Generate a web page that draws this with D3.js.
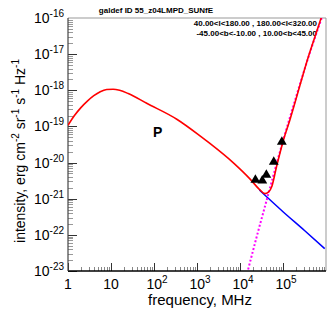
<!DOCTYPE html>
<html><head><meta charset="utf-8">
<script src="https://cdn.jsdelivr.net/npm/d3@7"></script>
<style>body{margin:0;background:#fff}svg{display:block}text{font-family:"Liberation Sans",Arial,sans-serif}</style>
</head><body><div id="chart"></div>
<script>
// ---- data (log10 frequency in MHz, log10 intensity) ----
const title = "galdef ID 55_z04LMPD_SUNfE";
const regionLines = ["40.00<l<180.00 , 180.00<l<320.00", "-45.00<b<-10.00 , 10.00<b<45.00"];
const xTickExp = [0, 1, 2, 3, 4, 5];
const xTickLabels = [["1", ""], ["10", ""], ["10", "2"], ["10", "3"], ["10", "4"], ["10", "5"]];
const yTickExp = [-16, -17, -18, -19, -20, -21, -22, -23];
const yTickLabels = ["-16", "-17", "-18", "-19", "-20", "-21", "-22", "-23"];
// total (red)
const totalLogF = [0, 0.15, 0.3, 0.45, 0.6, 0.75, 0.9, 1.05, 1.2, 1.4, 1.83, 2.53, 3.07, 3.3, 3.84, 4.23, 4.45, 4.58, 4.66, 4.74, 4.85, 5.01, 5.16, 5.59, 5.86, 5.9];
const totalLogI = [-18.97, -18.70, -18.48, -18.30, -18.15, -18.04, -17.98, -17.97, -18.0, -18.09, -18.36, -18.8, -19.26, -19.47, -20.0, -20.45, -20.74, -20.86, -20.82, -20.66, -20.11, -19.38, -18.82, -17.07, -16.1, -15.95];
// synchrotron continuation (blue)
const syncLogF = [4.45, 5.0, 5.5, 5.97];
const syncLogI = [-20.76, -21.36, -21.88, -22.38];
// second component (magenta dotted)
const dustLogF = [4.05, 4.18, 4.4, 4.62, 5.0, 5.3, 5.6, 5.9];
const dustLogI = [-23.6, -23.0, -22.0, -21.04, -19.4, -18.2, -17.05, -16.0];
// data points (triangles)
const ptsFreq = [22800, 33000, 41000, 61000, 94000];
const ptsLogI = [-20.48, -20.50, -20.34, -19.98, -19.43];
const label = "P";

// ---- layout ----
const W = 332, H = 320;
const m = {l: 68, r: 326, t: 18, b: 271};
const svg = d3.select("#chart").append("svg").attr("width", W).attr("height", H);
const x = d3.scaleLog().domain([1, 1e6]).range([m.l, m.r]);
const y = d3.scaleLog().domain([1e-23, 1e-16]).range([m.b, m.t]);

svg.append("defs").append("clipPath").attr("id", "clip")
  .append("rect").attr("x", m.l).attr("y", m.t).attr("width", m.r - m.l).attr("height", m.b - m.t);

// frame
svg.append("line").attr("x1", m.l).attr("x2", m.r).attr("y1", m.t).attr("y2", m.t).attr("stroke", "#999").attr("stroke-width", 1);
svg.append("line").attr("x1", m.r).attr("x2", m.r).attr("y1", m.t).attr("y2", m.b).attr("stroke", "#999").attr("stroke-width", 1);

// ticks
const tickG = svg.append("g").attr("stroke-width", 1);
for (let e = 0; e < 6; e++) {
  for (let k = 1; k <= 9; k++) {
    const v = k * Math.pow(10, e);
    const px = Math.round(x(v)) + 0.5;
    const len = k === 1 ? 8 : 4;
    tickG.append("line").attr("x1", px).attr("x2", px).attr("y1", m.b).attr("y2", m.b - len)
      .attr("stroke", k === 1 ? "#333" : "#888");
  }
}
for (let e = -23; e < -16; e++) {
  for (let k = 1; k <= 9; k++) {
    const v = k * Math.pow(10, e);
    const py = Math.round(y(v)) + 0.5;
    const len = k === 1 ? 9 : 5;
    tickG.append("line").attr("x1", m.l).attr("x2", m.l + len).attr("y1", py).attr("y2", py)
      .attr("stroke", k === 1 ? "#333" : "#999");
  }
}
// axis lines
svg.append("line").attr("x1", m.l).attr("x2", m.r).attr("y1", m.b).attr("y2", m.b).attr("stroke", "#000").attr("stroke-width", 1.5);
svg.append("line").attr("x1", m.l).attr("x2", m.l).attr("y1", m.t).attr("y2", m.b).attr("stroke", "#444").attr("stroke-width", 1.2);

// x tick labels
xTickExp.forEach((e, i) => {
  const t = svg.append("text").attr("x", x(Math.pow(10, e)) + (xTickLabels[i][1] ? 3 : 0)).attr("y", 289)
    .attr("text-anchor", "middle").attr("font-size", 14).attr("fill", "#000");
  t.append("tspan").text(xTickLabels[i][0]);
  if (xTickLabels[i][1]) t.append("tspan").attr("font-size", 10).attr("dy", -6).text(xTickLabels[i][1]);
});
// y tick labels
yTickExp.forEach((e, i) => {
  const t = svg.append("text").attr("x", 64).attr("y", y(Math.pow(10, e)) + 5)
    .attr("text-anchor", "end").attr("font-size", 14).attr("fill", "#000");
  t.append("tspan").text("10");
  t.append("tspan").attr("font-size", 10).attr("dy", -6).text(yTickLabels[i]);
});

// axis titles
svg.append("text").attr("x", 200).attr("y", 305).attr("text-anchor", "middle").attr("font-size", 15).text("frequency, MHz");
const yl = svg.append("text").attr("transform", "translate(25,151) rotate(-90)").attr("text-anchor", "middle").attr("font-size", 14);
[["intensity, erg cm", "-2"], [" sr", "-1"], [" s", "-1"], [" Hz", "-1"]].forEach(([a, b], i) => {
  yl.append("tspan").attr("dy", i === 0 ? 0 : 6).text(a);
  yl.append("tspan").attr("font-size", 10).attr("dy", -6).text(b);
});

// titles
svg.append("text").attr("x", 156).attr("y", 13).attr("text-anchor", "middle").attr("font-size", 8).attr("font-weight", "bold").text(title);
regionLines.forEach((s, i) => {
  svg.append("text").attr("x", 317).attr("y", 26 + i * 10).attr("text-anchor", "end").attr("font-size", 8).attr("font-weight", "bold").text(s);
});
svg.append("text").attr("x", 153).attr("y", 137).attr("font-size", 14).attr("font-weight", "bold").text(label);

// curves
const line = d3.line().x(d => x(Math.pow(10, d[0]))).y(d => y(Math.pow(10, d[1]))).curve(d3.curveMonotoneX);
const plot = svg.append("g").attr("clip-path", "url(#clip)");
plot.append("path").datum(syncLogF.map((f, i) => [f, syncLogI[i]])).attr("d", line)
  .attr("fill", "none").attr("stroke", "#0000ff").attr("stroke-width", 1.5);
plot.append("path").datum(dustLogF.map((f, i) => [f, dustLogI[i]])).attr("d", line)
  .attr("fill", "none").attr("stroke", "#ff00ff").attr("stroke-width", 2).attr("stroke-dasharray", "2,2");
plot.append("path").datum(totalLogF.map((f, i) => [f, totalLogI[i]])).attr("d", line)
  .attr("fill", "none").attr("stroke", "#ff0000").attr("stroke-width", 1.6);

// points
const sym = d3.symbol().type(d3.symbolTriangle).size(42);
svg.append("g").selectAll("path").data(ptsFreq.map((f, i) => [f, ptsLogI[i]])).join("path")
  .attr("transform", d => `translate(${x(d[0])},${y(Math.pow(10, d[1]))})`)
  .attr("d", sym).attr("fill", "#000");
</script></body></html>
